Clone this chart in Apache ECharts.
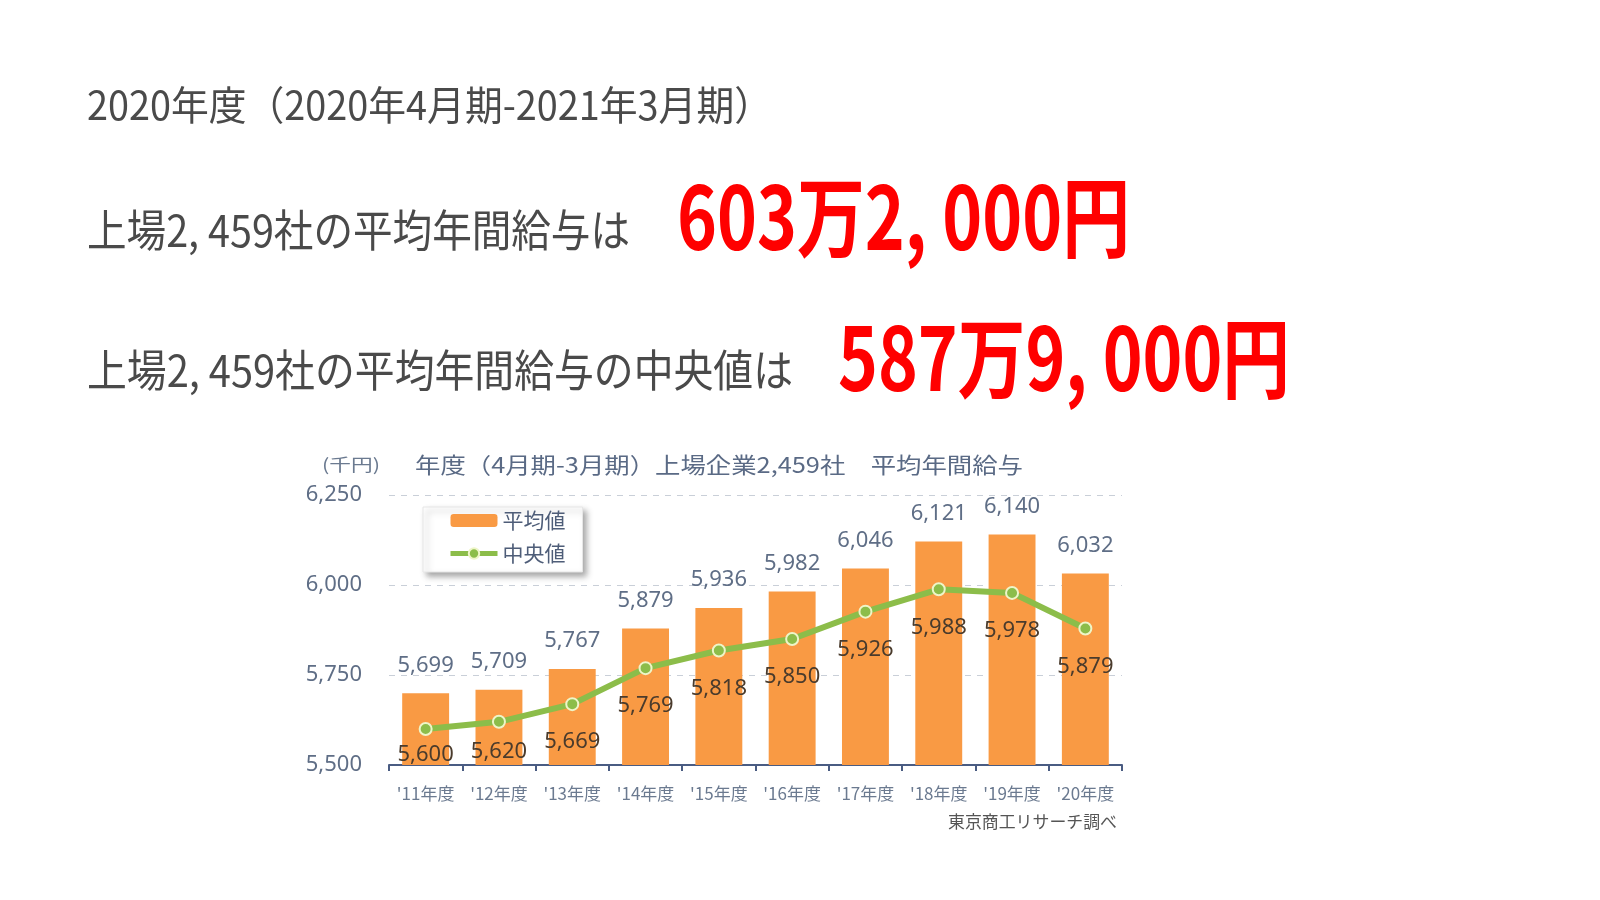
<!DOCTYPE html>
<html>
<head>
<meta charset="utf-8">
<script src="https://cdn.jsdelivr.net/npm/echarts@6/dist/echarts.min.js"></script>
<style>
  html, body { margin: 0; padding: 0; background: #ffffff; }
  #chart { width: 1600px; height: 900px; }
</style>
</head>
<body>
<div id="chart"></div>
<script>
// ---- data ----
const categories = ["'11年度", "'12年度", "'13年度", "'14年度", "'15年度", "'16年度", "'17年度", "'18年度", "'19年度", "'20年度"];
const averageValues = [5699, 5709, 5767, 5879, 5936, 5982, 6046, 6121, 6140, 6032];
const medianValues = [5600, 5620, 5669, 5769, 5818, 5850, 5926, 5988, 5978, 5879];
const seriesNames = ['平均値', '中央値'];
const yMin = 5500, yMax = 6250, yStep = 250;

const headingText = '2020年度（2020年4月期-2021年3月期）';
const averageLead = '上場2, 459社の平均年間給与は';
const averageBig = '603万2, 000円';
const medianLead = '上場2, 459社の平均年間給与の中央値は';
const medianBig = '587万9, 000円';
const chartTitle = '年度（4月期-3月期）上場企業2,459社　平均年間給与';
const unitText = '(千円)';
const sourceText = '東京商工リサーチ調べ';

// ---- layout helpers ----
const measureCtx = document.createElement('canvas').getContext('2d');
function fitScale(text, font, width) {
  measureCtx.font = font;
  return width / measureCtx.measureText(text).width;
}
function fittedText(text, font, fill, x, y, width, align) {
  return {
    type: 'text', x: x, y: y, silent: true,
    scaleX: fitScale(text, font, width), scaleY: 1,
    style: {
      text: text, font: font, fill: fill,
      align: align || 'left', verticalAlign: 'middle',
      textAlign: align || 'left', textVerticalAlign: 'middle'
    }
  };
}

const CJK = '"Noto Sans CJK JP", "Noto Sans", sans-serif';
const grayFont = 'normal 44px ' + CJK;
const headFont = 'normal 40px ' + CJK;
const redFont = 'bold 88px ' + CJK;
const axisColor = '#5f6e86';

// per-point label distance adjustments for median labels near the axis
const medianLabelDistance = [8, 12, 20, 20, 20, 20, 20, 20, 20, 20];

const chart = echarts.init(document.getElementById('chart'), null, { renderer: 'canvas' });

const option = {
  backgroundColor: '#ffffff',
  animation: false,
  textStyle: { fontFamily: '"Noto Sans", "Noto Sans CJK JP", sans-serif' },
  grid: { left: 389, right: 478, top: 495, bottom: 135, containLabel: false },
  legend: {
    orient: 'vertical',
    left: 423, top: 507,
    padding: [3, 17, 8, 25],
    itemGap: 12,
    itemWidth: 47, itemHeight: 13,
    backgroundColor: '#ffffff',
    borderColor: '#e6e6e6', borderWidth: 1,
    shadowBlur: 6, shadowColor: 'rgba(0,0,0,0.35)', shadowOffsetX: 4, shadowOffsetY: 4,
    textStyle: { fontSize: 21, color: '#4e5d78', fontFamily: CJK },
    data: [
      { name: seriesNames[0] },
      { name: seriesNames[1], lineStyle: { width: 5, color: '#8cbd4a' } }
    ]
  },
  xAxis: {
    type: 'category',
    data: categories,
    boundaryGap: true,
    axisLine: { show: true, lineStyle: { color: '#4a5c82', width: 2 } },
    axisTick: { show: true, length: 6, lineStyle: { color: '#4a5c82', width: 2 } },
    axisLabel: { interval: 0, color: '#6b7a90', fontSize: 17, margin: 20, fontFamily: CJK }
  },
  yAxis: {
    type: 'value',
    min: yMin, max: yMax, interval: yStep,
    axisLine: { show: false },
    axisTick: { show: false },
    axisLabel: {
      color: axisColor, fontSize: 22, margin: 27,
      formatter: v => v.toLocaleString('en-US')
    },
    splitLine: { show: true, lineStyle: { color: '#c9cfd8', type: [6, 6], width: 1 } }
  },
  series: [
    {
      name: seriesNames[0],
      type: 'bar',
      data: averageValues,
      barCategoryGap: '36%',
      itemStyle: { color: '#f99a44' },
      label: {
        show: true, position: 'top', distance: 17,
        color: axisColor, fontSize: 22,
        formatter: p => p.value.toLocaleString('en-US')
      },
      z: 2
    },
    {
      name: seriesNames[1],
      type: 'line',
      data: medianValues.map((v, i) => ({ value: v, label: { distance: medianLabelDistance[i] } })),
      symbol: 'circle',
      symbolSize: 12,
      lineStyle: { color: '#8cbd4a', width: 6 },
      itemStyle: { color: '#8cbd4a', borderColor: '#eef5c8', borderWidth: 2 },
      label: {
        show: true, position: 'bottom',
        color: '#4a3b2c', fontSize: 22,
        formatter: p => p.value.toLocaleString('en-US')
      },
      z: 3
    }
  ],
  graphic: [
    fittedText(headingText, headFont, '#4a4a4a', 87, 105, 685),
    fittedText(averageLead, grayFont, '#4a4a4a', 87, 230, 543),
    fittedText(averageBig, redFont, '#ff0000', 677, 217, 453),
    fittedText(medianLead, grayFont, '#4a4a4a', 87, 370, 706),
    fittedText(medianBig, redFont, '#ff0000', 838, 358, 452),
    fittedText(chartTitle, 'normal 22px ' + CJK, '#5a6a85', 415, 465, 608),
    fittedText(unitText, 'normal 17px ' + CJK, '#6b7a90', 322, 465, 58),
    fittedText(sourceText, 'normal 17px ' + CJK, '#555555', 1117, 822, 169, 'right')
  ]
};

chart.setOption(option);
</script>
</body>
</html>
